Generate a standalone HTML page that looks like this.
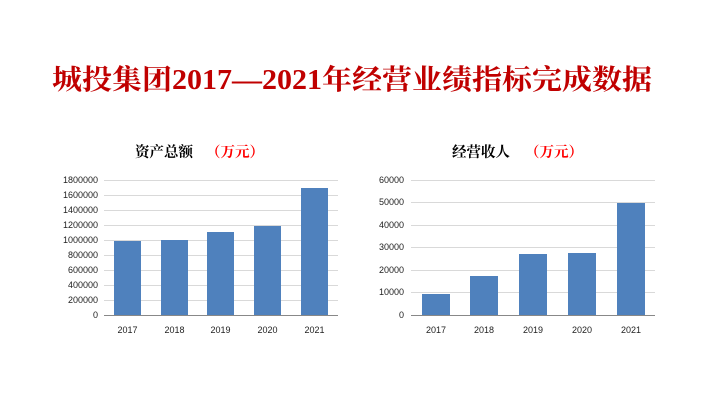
<!DOCTYPE html>
<html><head><meta charset="utf-8"><style>
html,body{margin:0;padding:0;background:#fff;}
svg{display:block;}
</style></head><body>
<svg width="720" height="403" xmlns="http://www.w3.org/2000/svg">
<text x="52" y="89" textLength="600" lengthAdjust="spacingAndGlyphs" font-family="'Liberation Serif','Noto Serif CJK SC',serif" font-weight="bold" font-size="28" fill="#c00000">城投集团2017—2021年经营业绩指标完成数据</text>

<g font-family="'Liberation Serif','Noto Serif CJK SC',serif" font-weight="bold" font-size="14.5">
<text x="135" y="157" fill="#000">资产总额</text>
<text x="206" y="157" fill="#ff0000">（万元）</text>
<text x="452" y="157" fill="#000">经营收人</text>
<text x="525" y="157" fill="#ff0000">（万元）</text>
</g>

<g stroke="#d9d9d9" stroke-width="1">
<line x1="104" y1="180.5" x2="338" y2="180.5"/><line x1="104" y1="195.5" x2="338" y2="195.5"/>
<line x1="104" y1="210.5" x2="338" y2="210.5"/><line x1="104" y1="225.5" x2="338" y2="225.5"/>
<line x1="104" y1="240.5" x2="338" y2="240.5"/><line x1="104" y1="255.5" x2="338" y2="255.5"/>
<line x1="104" y1="270.5" x2="338" y2="270.5"/><line x1="104" y1="285.5" x2="338" y2="285.5"/>
<line x1="104" y1="300.5" x2="338" y2="300.5"/>
<line x1="411" y1="180.5" x2="655" y2="180.5"/><line x1="411" y1="202.5" x2="655" y2="202.5"/>
<line x1="411" y1="225.5" x2="655" y2="225.5"/><line x1="411" y1="247.5" x2="655" y2="247.5"/>
<line x1="411" y1="270.5" x2="655" y2="270.5"/><line x1="411" y1="292.5" x2="655" y2="292.5"/>
</g>
<g fill="#4f81bd">
<rect x="114" y="241" width="27" height="74"/>
<rect x="161" y="240" width="27" height="75"/>
<rect x="207" y="232" width="27" height="83"/>
<rect x="254" y="226" width="27" height="89"/>
<rect x="301" y="188" width="27" height="127"/>
<rect x="422" y="294" width="28" height="21"/>
<rect x="470" y="276" width="28" height="39"/>
<rect x="519" y="254" width="28" height="61"/>
<rect x="568" y="253" width="28" height="62"/>
<rect x="617" y="203" width="28" height="112"/>
</g>
<g stroke="#888" stroke-width="1">
<line x1="104" y1="315.5" x2="338" y2="315.5"/>
<line x1="411" y1="315.5" x2="655" y2="315.5"/>
</g>
<g font-family="'Liberation Sans',sans-serif" font-size="9" fill="#222" text-anchor="end">
<text x="98" y="183">1800000</text><text x="98" y="198">1600000</text><text x="98" y="213">1400000</text>
<text x="98" y="228">1200000</text><text x="98" y="243">1000000</text><text x="98" y="258">800000</text>
<text x="98" y="273">600000</text><text x="98" y="288">400000</text><text x="98" y="303">200000</text>
<text x="98" y="318">0</text>
<text x="404" y="183">60000</text><text x="404" y="205">50000</text><text x="404" y="228">40000</text>
<text x="404" y="250">30000</text><text x="404" y="273">20000</text><text x="404" y="295">10000</text>
<text x="404" y="318">0</text>
</g>
<g font-family="'Liberation Sans',sans-serif" font-size="9" fill="#222" text-anchor="middle">
<text x="127.5" y="333">2017</text><text x="174.5" y="333">2018</text><text x="220.5" y="333">2019</text>
<text x="267.5" y="333">2020</text><text x="314.5" y="333">2021</text>
<text x="436" y="333">2017</text><text x="484" y="333">2018</text><text x="533" y="333">2019</text>
<text x="582" y="333">2020</text><text x="631" y="333">2021</text>
</g>
</svg>
</body></html>
